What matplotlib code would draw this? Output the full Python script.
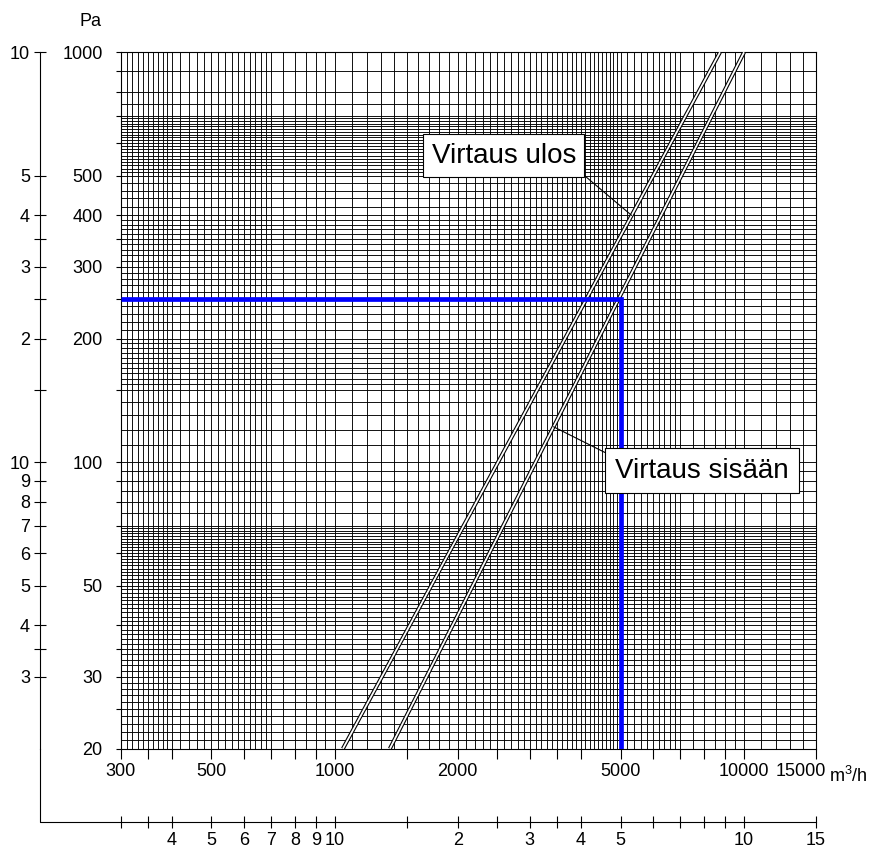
import numpy as np
import matplotlib
matplotlib.use("Agg")
import matplotlib.pyplot as plt
import matplotlib.patheffects as pe
from matplotlib.ticker import NullLocator
from matplotlib.transforms import ScaledTranslation

plt.rcParams['font.family'] = ['Liberation Sans', 'DejaVu Sans']
plt.rcParams['mathtext.default'] = 'regular'

# flow (m3/h) at 20 Pa and at 1000 Pa
P_ENDS = [20, 1000]
Q_ULOS = [1048, 8750]
Q_SISAAN = [1365, 10020]

# marked duty point
DUTY_Q = 5000
DUTY_P = 250

X_MIN, X_MAX = 300, 15000
Y_MIN, Y_MAX = 20, 1000

# inner scale (m3/h, Pa)
X_TICKS = [300, 350, 400, 500, 600, 700, 800, 900, 1000, 1500, 2000, 2500,
           3000, 3500, 4000, 5000, 6000, 7000, 8000, 9000, 10000, 15000]
X_LABELS = ['300', '', '', '500', '', '', '', '', '1000', '', '2000', '',
            '', '', '', '5000', '', '', '', '', '10000', '15000']
Y_TICKS = [20, 25, 30, 35, 40, 50, 60, 70, 80, 90, 100, 150, 200, 250,
           300, 350, 400, 500, 600, 700, 800, 900, 1000]
Y_LABELS = ['20', '', '30', '', '', '50', '', '', '', '', '100', '', '200', '',
            '300', '', '400', '500', '', '', '', '', '1000']

# outer scale (mantissa only)
X_OUT_LABELS = ['', '', '4', '5', '6', '7', '8', '9', '10', '', '2', '',
                '3', '', '4', '5', '', '', '', '', '10', '15']
Y_OUT_TICKS = [30, 35, 40, 50, 60, 70, 80, 90, 100, 150, 200, 250, 300,
               350, 400, 500, 1000]
Y_OUT_LABELS = ['3', '', '4', '5', '6', '7', '8', '9', '10', '', '2', '',
                '3', '', '4', '5', '10']

# log paper rulings, spacing changes per range like the original drawing
GRID_X = np.concatenate([np.arange(300, 400, 10), np.arange(400, 700, 20),
                         np.arange(700, 1000, 50), np.arange(1000, 5000, 100),
                         np.arange(5000, 7000, 200), np.arange(7000, 10000, 500),
                         np.arange(10000, 15001, 1000)])
GRID_Y = np.concatenate([np.arange(20, 70, 1), np.arange(70, 100, 5),
                         np.arange(100, 150, 10), np.arange(150, 200, 5),
                         np.arange(200, 400, 10), np.arange(400, 500, 20),
                         np.arange(500, 700, 10), [700, 750, 800, 900, 1000]])

FS = 13
GRID_LW = 0.65
OUT_X = -0.1168   # outer left scale, axes fraction
OUT_Y = -0.1048   # outer bottom scale, axes fraction


def q_at(qs, p):
    return 10 ** np.interp(np.log10(p), np.log10(P_ENDS), np.log10(qs))


def fig_px(x, y):
    return x / 895, 1 - y / 849


fig = plt.figure(figsize=(8.95, 8.49), dpi=100)
ax = fig.add_axes([0.13486, 0.11814, 0.77654, 0.82026])
ax.set_xscale('log')
ax.set_yscale('log')
ax.set_xlim(X_MIN, X_MAX)
ax.set_ylim(Y_MIN, Y_MAX)

ax.vlines(GRID_X, Y_MIN, Y_MAX, colors='black', lw=GRID_LW, zorder=1)
ax.hlines(GRID_Y, X_MIN, X_MAX, colors='black', lw=GRID_LW, zorder=1)

for qs in (Q_ULOS, Q_SISAAN):
    ax.plot(qs, P_ENDS, color='white', lw=1.3, solid_capstyle='butt', zorder=3,
            path_effects=[pe.Stroke(linewidth=2.9, foreground='black'), pe.Normal()])

ax.plot([X_MIN, DUTY_Q, DUTY_Q], [DUTY_P, DUTY_P, Y_MIN], color='#0000ff', lw=3.4,
        solid_joinstyle='miter', solid_capstyle='butt', zorder=4)

ax.annotate('Virtaus ulos', xy=(q_at(Q_ULOS, 400), 400), xytext=(2594, 560),
            ha='center', va='center', fontsize=20, zorder=6,
            bbox=dict(boxstyle='square,pad=0.3', fc='white', ec='black', lw=0.8),
            arrowprops=dict(arrowstyle='-', color='black', lw=0.8, relpos=(1, 0),
                            shrinkA=0, shrinkB=0))
ax.annotate('Virtaus sisään', xy=(q_at(Q_SISAAN, 122), 122), xytext=(7908, 95.4),
            ha='center', va='center', fontsize=20, zorder=6,
            bbox=dict(boxstyle='square,pad=0.35', fc='white', ec='black', lw=0.8),
            arrowprops=dict(arrowstyle='-', color='black', lw=0.8, relpos=(0, 1),
                            shrinkA=0, shrinkB=0))

for s in ax.spines.values():
    s.set_linewidth(0.8)
ax.set_xticks(X_TICKS)
ax.set_xticklabels(X_LABELS)
ax.set_yticks(Y_TICKS)
ax.set_yticklabels(Y_LABELS)
ax.xaxis.set_minor_locator(NullLocator())
ax.yaxis.set_minor_locator(NullLocator())
ax.tick_params(axis='x', direction='out', length=7.2, width=0.8, pad=3.2, labelsize=FS)
ax.tick_params(axis='y', direction='out', length=3.6, width=0.8, pad=9.4, labelsize=FS)
# nudge 15000 left to leave room for the unit
lab = ax.xaxis.get_major_ticks()[-1].label1
lab.set_transform(lab.get_transform() + ScaledTranslation(-0.145, 0, fig.dpi_scale_trans))

# outer mantissa scales
ax_out = fig.add_axes(ax.get_position(), facecolor='none')
ax_out.set_xscale('log')
ax_out.set_yscale('log')
ax_out.set_xlim(X_MIN, X_MAX)
ax_out.set_ylim(Y_MIN, Y_MAX)
ax_out.spines['top'].set_visible(False)
ax_out.spines['right'].set_visible(False)
ax_out.spines['left'].set_position(('axes', OUT_X))
ax_out.spines['bottom'].set_position(('axes', OUT_Y))
for s in ('left', 'bottom'):
    ax_out.spines[s].set_linewidth(0.8)
ax_out.set_xticks(X_TICKS)
ax_out.set_xticklabels(X_OUT_LABELS)
ax_out.set_yticks(Y_OUT_TICKS)
ax_out.set_yticklabels(Y_OUT_LABELS)
ax_out.xaxis.set_minor_locator(NullLocator())
ax_out.yaxis.set_minor_locator(NullLocator())
ax_out.tick_params(axis='x', direction='inout', length=8.6, width=0.8, pad=3.2, labelsize=FS)
ax_out.tick_params(axis='y', direction='inout', length=8.6, width=0.8, pad=2.5, labelsize=FS)
ax_out.plot([OUT_X, OUT_X, 0], [0, OUT_Y, OUT_Y], transform=ax_out.transAxes,
            color='black', lw=0.8, clip_on=False)

fig.text(*fig_px(102, 26), 'Pa', ha='right', va='baseline', fontsize=FS)
fig.text(*fig_px(829, 781.7), r'm$^{3}$/h', ha='left', va='baseline', fontsize=FS)

fig.savefig('out.png', dpi=100)
